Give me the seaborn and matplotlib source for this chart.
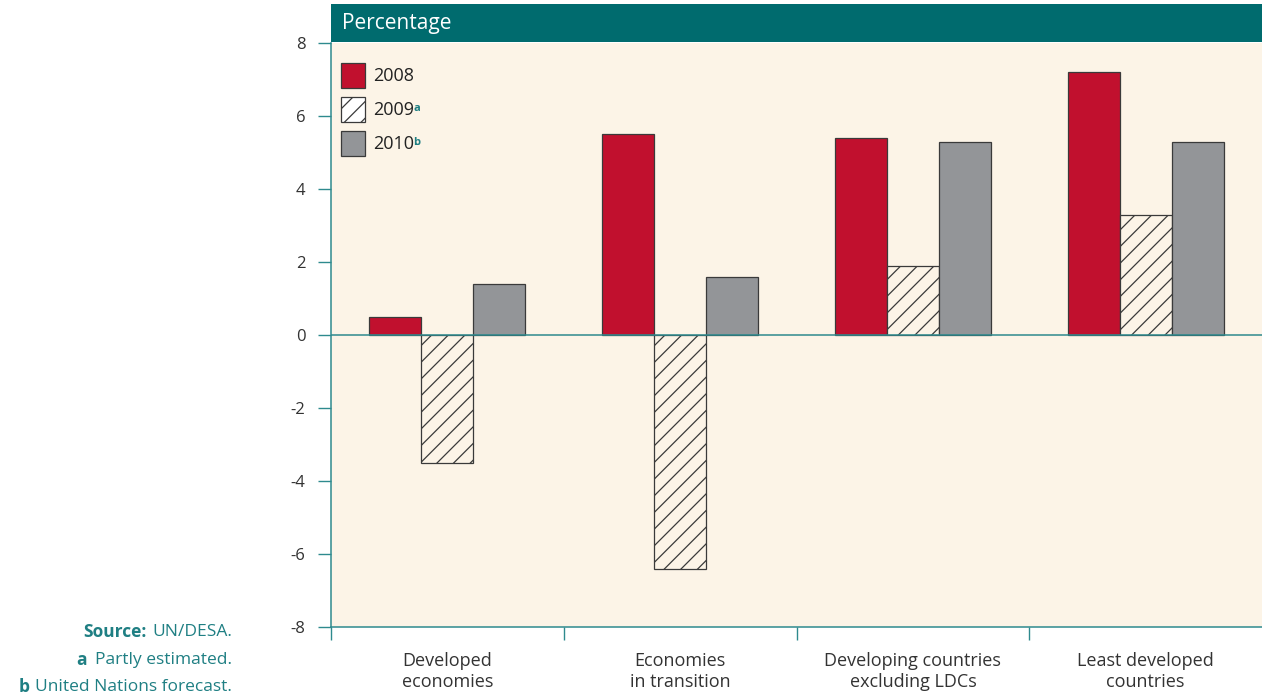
import matplotlib
matplotlib.use("Agg")
import matplotlib.pyplot as plt
import seaborn as sns
import pandas as pd
from matplotlib.patches import Patch, Rectangle

regions = ["Developed\neconomies", "Economies\nin transition",
           "Developing countries\nexcluding LDCs", "Least developed\ncountries"]
years = ["2008", "2009", "2010"]
v2008 = [0.5, 5.5, 5.4, 7.2]
v2009 = [-3.5, -6.4, 1.9, 3.3]
v2010 = [1.4, 1.6, 5.3, 5.3]
yticks = [-8, -6, -4, -2, 0, 2, 4, 6, 8]
superscripts = ["", "a", "b"]
header = "Percentage"
note_bold = ["Source:", "a", "b"]
note_text = ["UN/DESA.", "Partly estimated.", "United Nations forecast."]
note_gap = [5, 8, 6]

RED = "#C1102E"
GRAY = "#939598"
CREAM = "#FCF4E7"
TEAL = "#006B6E"
SPINE = "#2E8A8E"
NOTE = "#1F7F83"
EDGE = "#3A3A3A"

sns.set_theme(style="white")
plt.rcParams["font.family"] = ["Open Sans", "DejaVu Sans"]
plt.rcParams["hatch.linewidth"] = 0.9
plt.rcParams["hatch.color"] = EDGE

df = pd.DataFrame({
    "region": regions * 3,
    "year": [y for y in years for _ in regions],
    "value": v2008 + v2009 + v2010,
})

fig = plt.figure(figsize=(12.62, 6.98), dpi=100)
fig.patch.set_facecolor("white")
ax = fig.add_axes([331 / 1262, 1 - 627 / 698, 1 - 331 / 1262, (627 - 43) / 698])
ax.set_facecolor(CREAM)

sns.barplot(data=df, x="region", y="value", hue="year", order=regions, hue_order=years,
            palette=[RED, CREAM, GRAY], width=0.67, edgecolor=EDGE, linewidth=0.9,
            saturation=1, ax=ax, legend=False, errorbar=None)
for p in ax.containers[1]:
    p.set_hatch("//")

ax.set_ylim(-8, 8)
ax.set_xlim(-0.5, len(regions) - 0.5)
ax.axhline(0, color=SPINE, lw=1.1, zorder=3)

for s in ["top", "right"]:
    ax.spines[s].set_visible(False)
for s in ["left", "bottom"]:
    ax.spines[s].set_color(SPINE)
    ax.spines[s].set_linewidth(1.1)

ax.set_yticks(yticks)
ax.set_yticklabels([str(t) for t in yticks])
ax.tick_params(axis="y", which="major", left=True, length=9.5, width=1, color=SPINE,
               pad=9, labelsize=12, labelcolor="#333333")

ax.set_xticks([i - 0.5 for i in range(len(regions))])
ax.set_xticklabels([""] * len(regions))
ax.set_xticks(list(range(len(regions))), minor=True)
ax.set_xticklabels(regions, minor=True, fontsize=13, color="#333333")
ax.tick_params(axis="x", which="major", bottom=True, length=9.5, width=1, color=SPINE)
ax.tick_params(axis="x", which="minor", bottom=False, length=0, pad=18)
ax.set_xlabel("")
ax.set_ylabel("")

# header band
fig.patches.append(Rectangle((331 / 1262, 1 - 42 / 698), 1 - 331 / 1262, 38 / 698,
                             transform=fig.transFigure, facecolor=TEAL, edgecolor="none"))
fig.text(342 / 1262, 1 - 23 / 698, header, color="white", fontsize=15, va="center", ha="left")

# legend
handles = [Patch(facecolor=RED, edgecolor=EDGE, lw=0.9),
           Patch(facecolor="white", edgecolor=EDGE, lw=0.9, hatch="//"),
           Patch(facecolor=GRAY, edgecolor=EDGE, lw=0.9)]
leg = ax.legend(handles, years, loc="upper left", bbox_to_anchor=(10 / 931, 1 - 20 / 584),
                frameon=False, fontsize=13, handlelength=1.33, handleheight=1.75,
                handletextpad=0.45, labelspacing=0.5, borderpad=0, borderaxespad=0)
for t in leg.get_texts():
    t.set_color("#222222")

# footnotes (regular part right-aligned; bold part placed after layout)
ys = [1 - 632 / 698, 1 - 660 / 698, 1 - 687 / 698]
note_objs = []
for n, y in zip(note_text, ys):
    note_objs.append(fig.text(232 / 1262, y, n, ha="right", va="center", fontsize=12.5,
                              color=NOTE))

fig.canvas.draw()
W, H = fig.bbox.width, fig.bbox.height
for t, sup in zip(leg.get_texts(), superscripts):
    if sup:
        bb = t.get_window_extent()
        fig.text((bb.x1 - 1) / W, (bb.y1 - 2) / H, sup, fontsize=8, fontweight="bold",
                 color=NOTE, ha="left", va="top")
for t, b, g, y in zip(note_objs, note_bold, note_gap, ys):
    bb = t.get_window_extent()
    fig.text((bb.x0 - g) / W, y, b, ha="right", va="center", fontsize=12.5,
             fontweight="bold", color=NOTE)

fig.savefig("out.png", dpi=100)
